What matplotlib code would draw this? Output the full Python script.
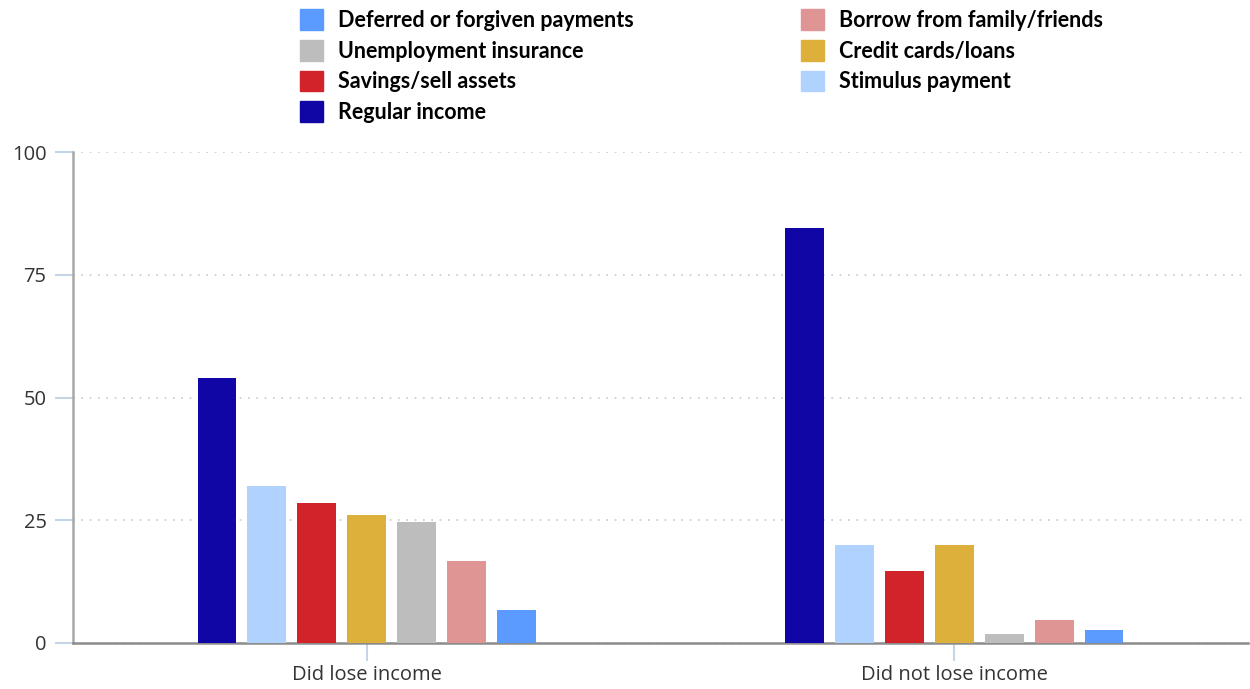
import matplotlib
matplotlib.use("Agg")
import matplotlib.pyplot as plt
from matplotlib.patches import Patch
import numpy as np

groups = ["Did lose income", "Did not lose income"]
series = ["Regular income", "Stimulus payment", "Savings/sell assets", "Credit cards/loans",
          "Unemployment insurance", "Borrow from family/friends", "Deferred or forgiven payments"]
values = {
    "Regular income": [54, 84.5],
    "Stimulus payment": [32, 20],
    "Savings/sell assets": [28.5, 14.7],
    "Credit cards/loans": [26, 20],
    "Unemployment insurance": [24.6, 1.8],
    "Borrow from family/friends": [16.6, 4.7],
    "Deferred or forgiven payments": [6.7, 2.6],
}
colors = {
    "Regular income": "#1005A5",
    "Stimulus payment": "#B0D2FF",
    "Savings/sell assets": "#D2232A",
    "Credit cards/loans": "#DCB03A",
    "Unemployment insurance": "#BDBDBD",
    "Borrow from family/friends": "#E09595",
    "Deferred or forgiven payments": "#5B9BFF",
}
yticks = [0, 25, 50, 75, 100]

fig = plt.figure(figsize=(12.5, 6.89), dpi=100)
ax = fig.add_axes([73/1250, 46/689, 1175/1250, 491/689])

x = np.arange(len(groups))
step = 0.085
width = 0.066
n = len(series)
for i, s in enumerate(series):
    off = (i - (n - 1) / 2) * step
    ax.bar(x + off, values[s], width=width, color=colors[s], label=s, zorder=3)

ax.set_xlim(-0.5, 1.5)
ax.set_ylim(0, 100)
ax.set_yticks(yticks)
ax.set_xticks(x)
ax.set_xticklabels(groups)
ax.yaxis.grid(True, linestyle=(0, (1, 4)), color="#C8C8C8", linewidth=1.2, zorder=0)
ax.xaxis.grid(False)
for sp in ["top", "right"]:
    ax.spines[sp].set_visible(False)
ax.spines["left"].set_color("#A8A8A8")
ax.spines["left"].set_linewidth(1.8)
ax.spines["bottom"].set_color("#8C8C8C")
ax.spines["bottom"].set_linewidth(1.8)
ax.tick_params(axis="both", colors="#C5D5E6", length=13, width=1.5, labelcolor="#333333",
               labelsize=14.5)
ax.tick_params(axis="y", pad=6)
ax.tick_params(axis="x", pad=3)
for lab in ax.get_xticklabels() + ax.get_yticklabels():
    lab.set_family("Open Sans")

col1 = ["Deferred or forgiven payments", "Unemployment insurance", "Savings/sell assets", "Regular income"]
col2 = ["Borrow from family/friends", "Credit cards/loans", "Stimulus payment"]
fs = 15.5
fpx = fs * 100 / 72
legkw = dict(frameon=False, handlelength=23/fpx, handleheight=24/fpx,
             handletextpad=15/fpx, labelspacing=0.42, borderpad=0, borderaxespad=0,
             prop={"family": "Lato", "weight": "bold", "size": fs})
l1 = fig.legend(handles=[Patch(color=colors[s], label=s) for s in col1],
                loc="upper left", bbox_to_anchor=(300/1250, 1 - 9/689), **legkw)
l2 = fig.legend(handles=[Patch(color=colors[s], label=s) for s in col2],
                loc="upper left", bbox_to_anchor=(801/1250, 1 - 9/689), **legkw)

fig.savefig("out.png", dpi=100)
